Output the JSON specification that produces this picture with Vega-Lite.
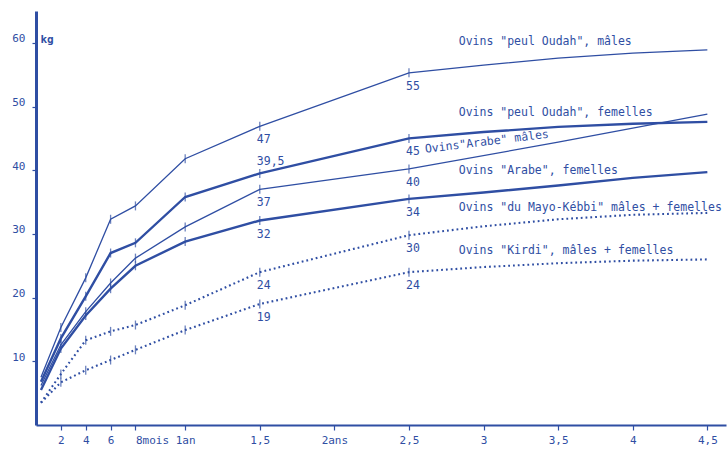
{
  "$schema": "https://vega.github.io/schema/vega-lite/v6.json",
  "width": 690,
  "height": 414,
  "autosize": {"type": "none"},
  "padding": {"left": 36, "top": 11, "right": 1, "bottom": 26},
  "background": "white",
  "config": {"view": {"stroke": null}, "font": "DejaVu Sans Mono"},
  "datasets": {
    "growth": [
      {"serie": "peul_m", "mois": 0.4, "kg": 7.5, "mesure": false, "label": null},
      {"serie": "peul_m", "mois": 2, "kg": 15.3, "mesure": true, "label": null},
      {"serie": "peul_m", "mois": 4, "kg": 23.1, "mesure": true, "label": null},
      {"serie": "peul_m", "mois": 6, "kg": 32.3, "mesure": true, "label": null},
      {"serie": "peul_m", "mois": 8, "kg": 34.4, "mesure": true, "label": null},
      {"serie": "peul_m", "mois": 12, "kg": 41.8, "mesure": true, "label": null},
      {"serie": "peul_m", "mois": 18, "kg": 46.9, "mesure": true, "label": "47"},
      {"serie": "peul_m", "mois": 30, "kg": 55.3, "mesure": true, "label": "55"},
      {"serie": "peul_m", "mois": 36, "kg": 56.5, "mesure": false, "label": null},
      {"serie": "peul_m", "mois": 42, "kg": 57.6, "mesure": false, "label": null},
      {"serie": "peul_m", "mois": 48, "kg": 58.4, "mesure": false, "label": null},
      {"serie": "peul_m", "mois": 54, "kg": 58.9, "mesure": false, "label": null},
      {"serie": "peul_f", "mois": 0.4, "kg": 6.8, "mesure": false, "label": null},
      {"serie": "peul_f", "mois": 2, "kg": 13.6, "mesure": true, "label": null},
      {"serie": "peul_f", "mois": 4, "kg": 20.2, "mesure": true, "label": null},
      {"serie": "peul_f", "mois": 6, "kg": 27.0, "mesure": true, "label": null},
      {"serie": "peul_f", "mois": 8, "kg": 28.6, "mesure": true, "label": null},
      {"serie": "peul_f", "mois": 12, "kg": 35.8, "mesure": true, "label": null},
      {"serie": "peul_f", "mois": 18, "kg": 39.5, "mesure": true, "label": "39,5"},
      {"serie": "peul_f", "mois": 30, "kg": 45.0, "mesure": true, "label": "45"},
      {"serie": "peul_f", "mois": 36, "kg": 46.0, "mesure": false, "label": null},
      {"serie": "peul_f", "mois": 42, "kg": 46.8, "mesure": false, "label": null},
      {"serie": "peul_f", "mois": 48, "kg": 47.3, "mesure": false, "label": null},
      {"serie": "peul_f", "mois": 54, "kg": 47.6, "mesure": false, "label": null},
      {"serie": "arabe_m", "mois": 0.4, "kg": 6.2, "mesure": false, "label": null},
      {"serie": "arabe_m", "mois": 2, "kg": 12.6, "mesure": true, "label": null},
      {"serie": "arabe_m", "mois": 4, "kg": 17.8, "mesure": true, "label": null},
      {"serie": "arabe_m", "mois": 6, "kg": 22.3, "mesure": true, "label": null},
      {"serie": "arabe_m", "mois": 8, "kg": 26.2, "mesure": true, "label": null},
      {"serie": "arabe_m", "mois": 12, "kg": 31.1, "mesure": true, "label": null},
      {"serie": "arabe_m", "mois": 18, "kg": 37.0, "mesure": true, "label": "37"},
      {"serie": "arabe_m", "mois": 30, "kg": 40.2, "mesure": true, "label": "40"},
      {"serie": "arabe_m", "mois": 42, "kg": 44.4, "mesure": false, "label": null},
      {"serie": "arabe_m", "mois": 54, "kg": 48.8, "mesure": false, "label": null},
      {"serie": "arabe_f", "mois": 0.4, "kg": 5.5, "mesure": false, "label": null},
      {"serie": "arabe_f", "mois": 2, "kg": 12.0, "mesure": true, "label": null},
      {"serie": "arabe_f", "mois": 4, "kg": 17.2, "mesure": true, "label": null},
      {"serie": "arabe_f", "mois": 6, "kg": 21.4, "mesure": true, "label": null},
      {"serie": "arabe_f", "mois": 8, "kg": 25.0, "mesure": true, "label": null},
      {"serie": "arabe_f", "mois": 12, "kg": 28.8, "mesure": true, "label": null},
      {"serie": "arabe_f", "mois": 18, "kg": 32.1, "mesure": true, "label": "32"},
      {"serie": "arabe_f", "mois": 30, "kg": 35.5, "mesure": true, "label": "34"},
      {"serie": "arabe_f", "mois": 36, "kg": 36.5, "mesure": false, "label": null},
      {"serie": "arabe_f", "mois": 42, "kg": 37.6, "mesure": false, "label": null},
      {"serie": "arabe_f", "mois": 48, "kg": 38.8, "mesure": false, "label": null},
      {"serie": "arabe_f", "mois": 54, "kg": 39.7, "mesure": false, "label": null},
      {"serie": "mayo", "mois": 0.4, "kg": 3.5, "mesure": false, "label": null},
      {"serie": "mayo", "mois": 2, "kg": 8.0, "mesure": true, "label": null},
      {"serie": "mayo", "mois": 4, "kg": 13.3, "mesure": true, "label": null},
      {"serie": "mayo", "mois": 6, "kg": 14.7, "mesure": true, "label": null},
      {"serie": "mayo", "mois": 8, "kg": 15.7, "mesure": true, "label": null},
      {"serie": "mayo", "mois": 12, "kg": 18.8, "mesure": true, "label": null},
      {"serie": "mayo", "mois": 18, "kg": 24.0, "mesure": true, "label": "24"},
      {"serie": "mayo", "mois": 30, "kg": 29.8, "mesure": true, "label": "30"},
      {"serie": "mayo", "mois": 36, "kg": 31.2, "mesure": false, "label": null},
      {"serie": "mayo", "mois": 42, "kg": 32.3, "mesure": false, "label": null},
      {"serie": "mayo", "mois": 48, "kg": 33.0, "mesure": false, "label": null},
      {"serie": "mayo", "mois": 54, "kg": 33.3, "mesure": false, "label": null},
      {"serie": "kirdi", "mois": 0.4, "kg": 3.5, "mesure": false, "label": null},
      {"serie": "kirdi", "mois": 2, "kg": 6.7, "mesure": true, "label": null},
      {"serie": "kirdi", "mois": 4, "kg": 8.6, "mesure": true, "label": null},
      {"serie": "kirdi", "mois": 6, "kg": 10.2, "mesure": true, "label": null},
      {"serie": "kirdi", "mois": 8, "kg": 11.8, "mesure": true, "label": null},
      {"serie": "kirdi", "mois": 12, "kg": 14.9, "mesure": true, "label": null},
      {"serie": "kirdi", "mois": 18, "kg": 19.0, "mesure": true, "label": "19"},
      {"serie": "kirdi", "mois": 30, "kg": 24.0, "mesure": true, "label": "24"},
      {"serie": "kirdi", "mois": 36, "kg": 24.8, "mesure": false, "label": null},
      {"serie": "kirdi", "mois": 42, "kg": 25.4, "mesure": false, "label": null},
      {"serie": "kirdi", "mois": 48, "kg": 25.8, "mesure": false, "label": null},
      {"serie": "kirdi", "mois": 54, "kg": 26.0, "mesure": false, "label": null}
    ],
    "noms": [
      {"serie": "peul_m", "mois": 34.0, "kg": 60.1, "texte": "Ovins \"peul Oudah\", mâles"},
      {"serie": "peul_f", "mois": 34.0, "kg": 49.0, "texte": "Ovins \"peul Oudah\", femelles"},
      {"serie": "arabe_f", "mois": 34.0, "kg": 39.9, "texte": "Ovins \"Arabe\", femelles"},
      {"serie": "mayo", "mois": 34.0, "kg": 34.1, "texte": "Ovins \"du Mayo-Kébbi\" mâles + femelles"},
      {"serie": "kirdi", "mois": 34.0, "kg": 27.3, "texte": "Ovins \"Kirdi\", mâles + femelles"},
      {"serie": "arabe_m", "mois": 31.3, "kg": 43.2, "texte": "Ovins\"Arabe\" mâles"}
    ]
  },
  "encoding": {
    "x": {
      "field": "mois",
      "type": "quantitative",
      "scale": {"domain": [0, 55.5], "nice": false, "zero": false},
      "axis": {
        "title": null,
        "grid": false,
        "values": [2, 4, 6, 8, 12, 18, 24, 30, 36, 42, 48, 54],
        "labelExpr": "{'2':'2','4':'4','6':'6','8':'8mois','12':'1an','18':'1,5','24':'2ans','30':'2,5','36':'3','42':'3,5','48':'4','54':'4,5'}[datum.value + '']",
        "labelAlign": {"condition": {"test": "datum.value == 8", "value": "left"}, "value": "center"},
        "labelFont": "DejaVu Sans Mono",
        "labelFontSize": 11,
        "labelColor": "#2f4ea3",
        "labelPadding": 4,
        "labelBaseline": "top",
        "labelOverlap": false,
        "labelFlush": false,
        "domainColor": "#2f4ea3",
        "domainWidth": 2,
        "tickColor": "#2f4ea3",
        "tickSize": 5,
        "tickWidth": 1.2
      }
    },
    "y": {
      "field": "kg",
      "type": "quantitative",
      "scale": {"domain": [0, 65], "nice": false, "zero": true},
      "axis": {
        "title": "kg",
        "titleAngle": 0,
        "titleX": 4,
        "titleY": 28,
        "titleAlign": "left",
        "titleBaseline": "middle",
        "titleFont": "DejaVu Sans Mono",
        "titleFontSize": 11,
        "titleFontWeight": "bold",
        "titleColor": "#2f4ea3",
        "grid": false,
        "values": [10, 20, 30, 40, 50, 60],
        "labelFont": "DejaVu Sans Mono",
        "labelFontSize": 11,
        "labelColor": "#2f4ea3",
        "labelPadding": 7,
        "labelOffset": -4,
        "domainColor": "#2f4ea3",
        "domainWidth": 3,
        "tickColor": "#2f4ea3",
        "tickSize": 4,
        "tickWidth": 1.2
      }
    }
  },
  "layer": [
    {
      "data": {"name": "growth"},
      "transform": [{"filter": "datum.serie == 'peul_m' || datum.serie == 'arabe_m'"}],
      "mark": {"type": "line", "color": "#2f4ea3", "strokeWidth": 1.3},
      "encoding": {"detail": {"field": "serie"}, "order": {"field": "mois", "type": "quantitative"}}
    },
    {
      "data": {"name": "growth"},
      "transform": [{"filter": "datum.serie == 'peul_f' || datum.serie == 'arabe_f'"}],
      "mark": {"type": "line", "color": "#2f4ea3", "strokeWidth": 2.4},
      "encoding": {"detail": {"field": "serie"}, "order": {"field": "mois", "type": "quantitative"}}
    },
    {
      "data": {"name": "growth"},
      "transform": [{"filter": "datum.serie == 'mayo' || datum.serie == 'kirdi'"}],
      "mark": {"type": "line", "color": "#2f4ea3", "strokeWidth": 2.1, "strokeDash": [1.8, 3], "strokeCap": "butt"},
      "encoding": {"detail": {"field": "serie"}, "order": {"field": "mois", "type": "quantitative"}}
    },
    {
      "data": {"name": "growth"},
      "transform": [{"filter": "datum.mesure"}],
      "mark": {"type": "tick", "orient": "vertical", "color": "#2f4ea3", "size": 9, "thickness": 1.3}
    },
    {
      "data": {"name": "growth"},
      "transform": [{"filter": "datum.label != null && datum.label != '39,5'"}],
      "mark": {"type": "text", "align": "left", "baseline": "middle", "dx": -3, "dy": 14, "font": "DejaVu Sans Mono", "fontSize": 11.5, "color": "#2f4ea3"},
      "encoding": {"text": {"field": "label"}}
    },
    {
      "data": {"name": "growth"},
      "transform": [{"filter": "datum.label == '39,5'"}],
      "mark": {"type": "text", "align": "left", "baseline": "middle", "dx": -3, "dy": -11, "font": "DejaVu Sans Mono", "fontSize": 11.5, "color": "#2f4ea3"},
      "encoding": {"text": {"field": "label"}}
    },
    {
      "data": {"name": "noms"},
      "transform": [{"filter": "datum.serie != 'arabe_m'"}],
      "mark": {"type": "text", "align": "left", "baseline": "middle", "font": "DejaVu Sans Mono", "fontSize": 11.5, "color": "#2f4ea3"},
      "encoding": {"text": {"field": "texte"}}
    },
    {
      "data": {"name": "noms"},
      "transform": [{"filter": "datum.serie == 'arabe_m'"}],
      "mark": {"type": "text", "align": "left", "baseline": "middle", "angle": 353, "font": "DejaVu Sans Mono", "fontSize": 11.5, "color": "#2f4ea3"},
      "encoding": {"text": {"field": "texte"}}
    },
    {
      "mark": {"type": "point", "shape": "triangle-up", "filled": true, "color": "#2f4ea3", "size": 60, "opacity": 1},
      "encoding": {"x": {"datum": 0}, "y": {"datum": 64.2}}
    }
  ]
}
